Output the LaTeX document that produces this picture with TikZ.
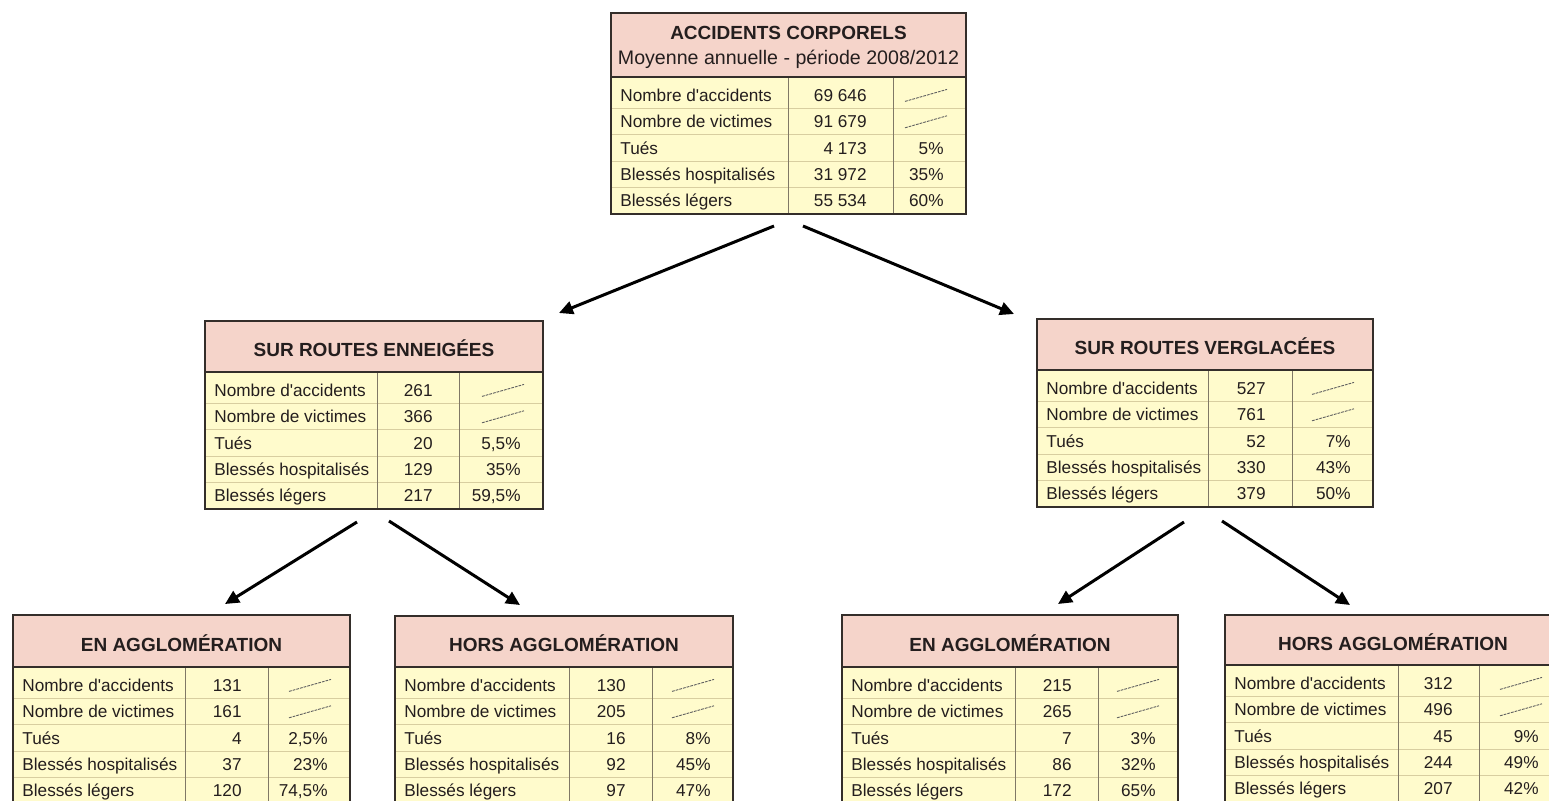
\documentclass[tikz,border=0pt]{standalone}
\usepackage{fontspec}
\setmainfont{Liberation Sans}
\usetikzlibrary{arrows.meta,calc,fit}
\definecolor{cEntete}{RGB}{245,212,202}
\definecolor{cCorps}{RGB}{255,251,204}
\definecolor{cCadre}{RGB}{52,46,42}
\definecolor{cFilet}{RGB}{216,206,160}
\definecolor{cColonne}{RGB}{128,120,102}
\definecolor{cTexte}{RGB}{36,30,30}
\definecolor{cBiffe}{RGB}{95,95,95}

% un tableau : nom, x, y, colonnes 1-3, hauteur en-tete, titre, valeurs
\newcommand{\statbox}[9]{%
  \pgfmathsetmacro{\bw}{#4+#5+#6}
  \pgfmathsetmacro{\bh}{#7+137}
  \fill[cEntete] (#2,#3) rectangle ++(\bw,#7);
  \fill[cCorps] (#2,#3+#7) rectangle ++(\bw,137);
  \foreach \k in {1,...,4}
    \draw[filet] (#2,#3+#7+5+26.4*\k) -- ++(\bw,0);
  \draw[colonne] (#2+#4,#3+#7) -- ++(0,137);
  \draw[colonne] (#2+#4+#5,#3+#7) -- ++(0,137);
  \draw[cadre] (#2,#3+#7) -- ++(\bw,0);
  \node[cadre, fit={(#2,#3) (#2+\bw,#3+\bh)}, inner sep=0pt] (#1) {};
  \node[titre] (#1-titre) at (#2+\bw/2,#3+#7/2+2) {#8};
  \foreach \lab [count=\i] in {Nombre d\textquotesingle accidents, Nombre de victimes, Tués, Blessés hospitalisés, Blessés légers}
    \node[ligne, anchor=west] (#1-l\i) at (#2+9,#3+#7+5+26.4*\i-13.2) {\lab};
  \foreach \val/\pct [count=\i] in {#9} {
    \node[ligne, anchor=east] (#1-n\i) at (#2+#4+#5-26,#3+#7+5+26.4*\i-13.2) {\val};
    \ifnum\i>2
      \node[ligne, anchor=east] (#1-p\i) at (#2+\bw-22,#3+#7+5+26.4*\i-13.2) {\pct};
    \fi
  }
  \foreach \i in {1,2}
    \draw[biffe] (#2+\bw-61,#3+#7+5+26.4*\i-7) -- ++(42,-12);
}

\begin{document}
\begin{tikzpicture}[x=0.5pt, y=-0.5pt,
    filet/.style={draw=cFilet, line width=0.5pt},
    colonne/.style={draw=cColonne, line width=0.5pt},
    cadre/.style={draw=cCadre, line width=1pt},
    biffe/.style={draw=cBiffe, line width=0.45pt, dash pattern=on 1.4pt off 0.5pt},
    titre/.style={font=\bfseries\fontsize{9.5}{12.5}\selectfont, text=cTexte, align=center, inner sep=0pt},
    ligne/.style={font=\fontsize{8.6}{10}\selectfont, text=cTexte, inner sep=0pt, text height=6.5pt, text depth=0.5pt},
    fleche/.style={draw=black, line width=1.5pt, -{Triangle[length=7pt,width=6.5pt]}}]
  \useasboundingbox (0,0) rectangle (1549,800);
  \clip (0,0) rectangle (1549,800);
  \fill[white] (0,0) rectangle (1549,800);

  % tableaux
  \statbox{acc}{611}{13}{177}{105}{73}{64}{ACCIDENTS CORPORELS\\{\mdseries\fontsize{9.8}{12.5}\selectfont Moyenne annuelle - période 2008/2012}}{69 646/-, 91 679/-, 4 173/5\%, 31 972/35\%, 55 534/60\%}
  \statbox{neige}{205}{321}{172}{82}{84}{51}{SUR ROUTES ENNEIGÉES}{261/-, 366/-, 20/5{,}5\%, 129/35\%, 217/59{,}5\%}
  \statbox{verglas}{1037}{319}{171}{84}{81}{51}{SUR ROUTES VERGLACÉES}{527/-, 761/-, 52/7\%, 330/43\%, 379/50\%}
  \statbox{neigeEn}{13}{615}{172}{83}{82}{52}{EN AGGLOMÉRATION}{131/-, 161/-, 4/2{,}5\%, 37/23\%, 120/74{,}5\%}
  \statbox{neigeHors}{395}{616}{174}{83}{81}{51}{HORS AGGLOMÉRATION}{130/-, 205/-, 16/8\%, 92/45\%, 97/47\%}
  \statbox{verglasEn}{842}{615}{173}{83}{80}{52}{EN AGGLOMÉRATION}{215/-, 265/-, 7/3\%, 86/32\%, 172/65\%}
  \statbox{verglasHors}{1225}{615}{173}{81}{82}{50}{HORS AGGLOMÉRATION}{312/-, 496/-, 45/9\%, 244/49\%, 207/42\%}

  % fleches
  \draw[fleche] ($(acc.south)+(-14.5,11)$) -- ($(neige.north east)+(15,-7)$);
  \draw[fleche] ($(acc.south)+(14.5,11)$) -- ($(verglas.north west)+(-22,-4)$);
  \draw[fleche] ($(neige.south)+(-17,12)$) -- ($(neigeEn.north)+(43.5,-10)$);
  \draw[fleche] ($(neige.south)+(15,11)$) -- ($(neigeHors.north)+(-44,-10)$);
  \draw[fleche] ($(verglas.south)+(-21,14)$) -- ($(verglasEn.north)+(48,-10)$);
  \draw[fleche] ($(verglas.south)+(17,13)$) -- ($(verglasHors.north)+(-43,-9)$);
\end{tikzpicture}
\end{document}
